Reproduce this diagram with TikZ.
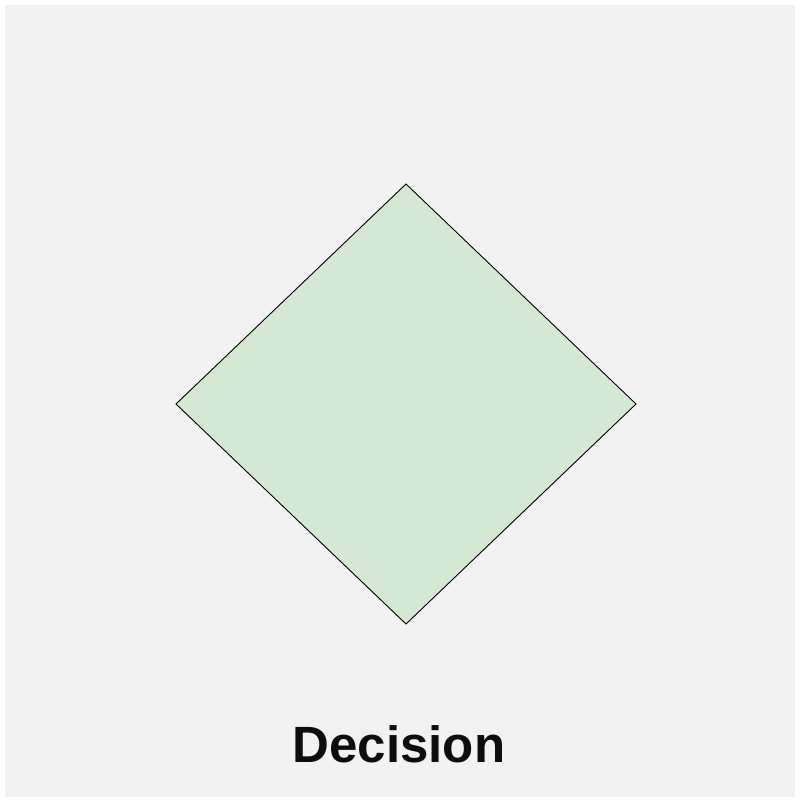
\documentclass[tikz,border=0pt]{standalone}
\usepackage{fontspec}
\setmainfont{Liberation Sans}
\definecolor{bggrey}{HTML}{F2F2F2}
\definecolor{decfill}{HTML}{D5E8D4}
\tikzset{
  decbox/.style={draw=black, fill=decfill, line width=0.9pt, line join=miter},
  caption/.style={font=\fontsize{51}{60}\selectfont\bfseries, text=black!95, inner sep=0pt, anchor=base}
}
\begin{document}
\begin{tikzpicture}[x=1pt,y=-1pt]
\useasboundingbox (0,0) rectangle (798,802);
\fill[white] (0,0) rectangle (798,802);
\fill[bggrey] (5,5) rectangle (795,797);
\coordinate (top) at (406,184);
\coordinate (left) at (176,404);
\coordinate (right) at (636,404);
\coordinate (bottom) at (406,624);
\path[decbox] (top) -- (right) -- (bottom) -- (left) -- cycle;
\node[caption] (lbl) at (399,762) {Decision};
\end{tikzpicture}
\end{document}
